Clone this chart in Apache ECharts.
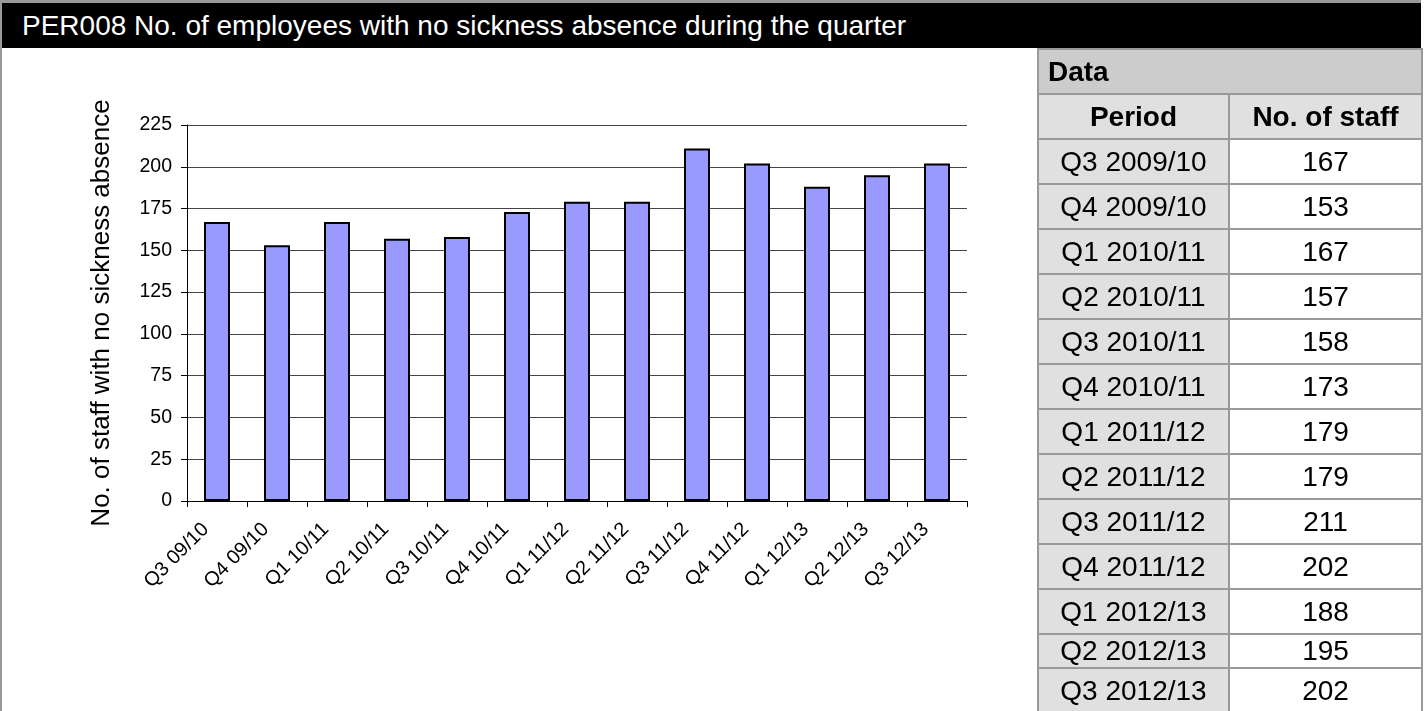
<!DOCTYPE html>
<html lang="en">
<head>
    <meta charset="UTF-8">
    <title>PER008</title>
    <style>
        html,body{
            margin: 0;
            padding: 0;
            width: 1427px;
            height: 711px;
            overflow: hidden;
            background: #fff;
            font-family: 'Liberation Sans', Arial, sans-serif;
        }
        #frame{
            position: absolute;
            left: 0; top: 0;
            width: 1419px; height: 711px;
            border-left: 2px solid #999;
            border-top: 3px solid #999;
        }
        #titleBar{
            position: absolute;
            left: 2px; top: 3px;
            width: 1419px; height: 45px;
            background: #000;
            color: #fff;
            font-size: 28px;
            line-height: 45px;
            padding-left: 20px;
            box-sizing: border-box;
            white-space: nowrap;
        }
        #chart{
            position: absolute;
            left: 0; top: 0;
            width: 1427px; height: 711px;
        }
        #dataTable{
            position: absolute;
            left: 1037px; top: 48px;
            width: 386px;
            border-collapse: collapse;
            font-size: 28px;
            color: #000;
        }
        #dataTable td{
            border: 2px solid #999;
            padding: 0;
            height: 43px;
            text-align: center;
            vertical-align: middle;
            background: #fff;
        }
        #dataTable td.per{ background: #e0e0e0; width: 189px; }
        #dataTable tr.head td{ background: #e0e0e0; font-weight: bold; }
        #dataTable tr.cap td{ background: #cccccc; font-weight: bold; text-align: left; padding-left: 9px; }
        #dataTable tr.short td{ height: 32px; }
    </style>
</head>
<body>
<div id="chart"></div>
<div id="frame"></div>
<div id="titleBar">PER008 No. of employees with no sickness absence during the quarter</div>
<table id="dataTable"></table>
<script src="https://cdn.jsdelivr.net/npm/echarts@6/dist/echarts.min.js"></script>
<script type="text/javascript">
    var categories = ['Q3 09/10', 'Q4 09/10', 'Q1 10/11', 'Q2 10/11', 'Q3 10/11', 'Q4 10/11', 'Q1 11/12',
        'Q2 11/12', 'Q3 11/12', 'Q4 11/12', 'Q1 12/13', 'Q2 12/13', 'Q3 12/13'];
    var periods = ['Q3 2009/10', 'Q4 2009/10', 'Q1 2010/11', 'Q2 2010/11', 'Q3 2010/11', 'Q4 2010/11', 'Q1 2011/12',
        'Q2 2011/12', 'Q3 2011/12', 'Q4 2011/12', 'Q1 2012/13', 'Q2 2012/13', 'Q3 2012/13'];
    var staff = [167, 153, 167, 157, 158, 173, 179, 179, 211, 202, 188, 195, 202];
    var yTicks = [0, 25, 50, 75, 100, 125, 150, 175, 200, 225];

    var FONT = "'Liberation Sans', Arial, sans-serif";

    function buildTable() {
        var rows = [];
        rows.push('<tr class="cap"><td colspan="2">Data</td></tr>');
        rows.push('<tr class="head"><td class="per">Period</td><td>No. of staff</td></tr>');
        for (var i = 0; i < periods.length; i++) {
            var cls = (i === periods.length - 2) ? ' class="short"' : '';
            rows.push('<tr' + cls + '><td class="per">' + periods[i] + '</td><td>' + staff[i] + '</td></tr>');
        }
        document.getElementById('dataTable').innerHTML = rows.join('');
    }

    function initBarChart(id) {
        var myChart = echarts.init(document.getElementById(id));
        var option = {
            animation: false,
            backgroundColor: 'transparent',
            grid: {left: 187, right: 460, top: 125, bottom: 210},
            xAxis: {
                type: 'category',
                data: categories,
                boundaryGap: true,
                axisLine: {lineStyle: {color: '#000', width: 1}},
                axisTick: {show: true, length: 6, alignWithLabel: false, lineStyle: {color: '#000'}},
                axisLabel: {
                    interval: 0, rotate: 45, margin: 14,
                    padding: [0, 16, 0, 0],
                    color: '#000', fontSize: 20, fontFamily: FONT
                }
            },
            yAxis: {
                type: 'value',
                min: yTicks[0],
                max: yTicks[yTicks.length - 1],
                interval: 25,
                name: 'No. of staff with no sickness absence',
                nameLocation: 'middle',
                nameGap: 72,
                nameTextStyle: {color: '#000', fontSize: 26, fontFamily: FONT},
                axisLine: {show: true, lineStyle: {color: '#000', width: 1}},
                axisTick: {show: true, length: 6, lineStyle: {color: '#000'}},
                axisLabel: {margin: 15, color: '#000', fontSize: 19.5, fontFamily: FONT},
                splitLine: {show: true, lineStyle: {color: '#444', width: 1}}
            },
            series: [{
                type: 'bar',
                data: staff,
                barWidth: 26,
                itemStyle: {color: '#9999ff', borderColor: '#000', borderWidth: 2}
            }]
        };
        myChart.setOption(option, true);
    }

    buildTable();
    initBarChart('chart');
</script>
</body>
</html>
